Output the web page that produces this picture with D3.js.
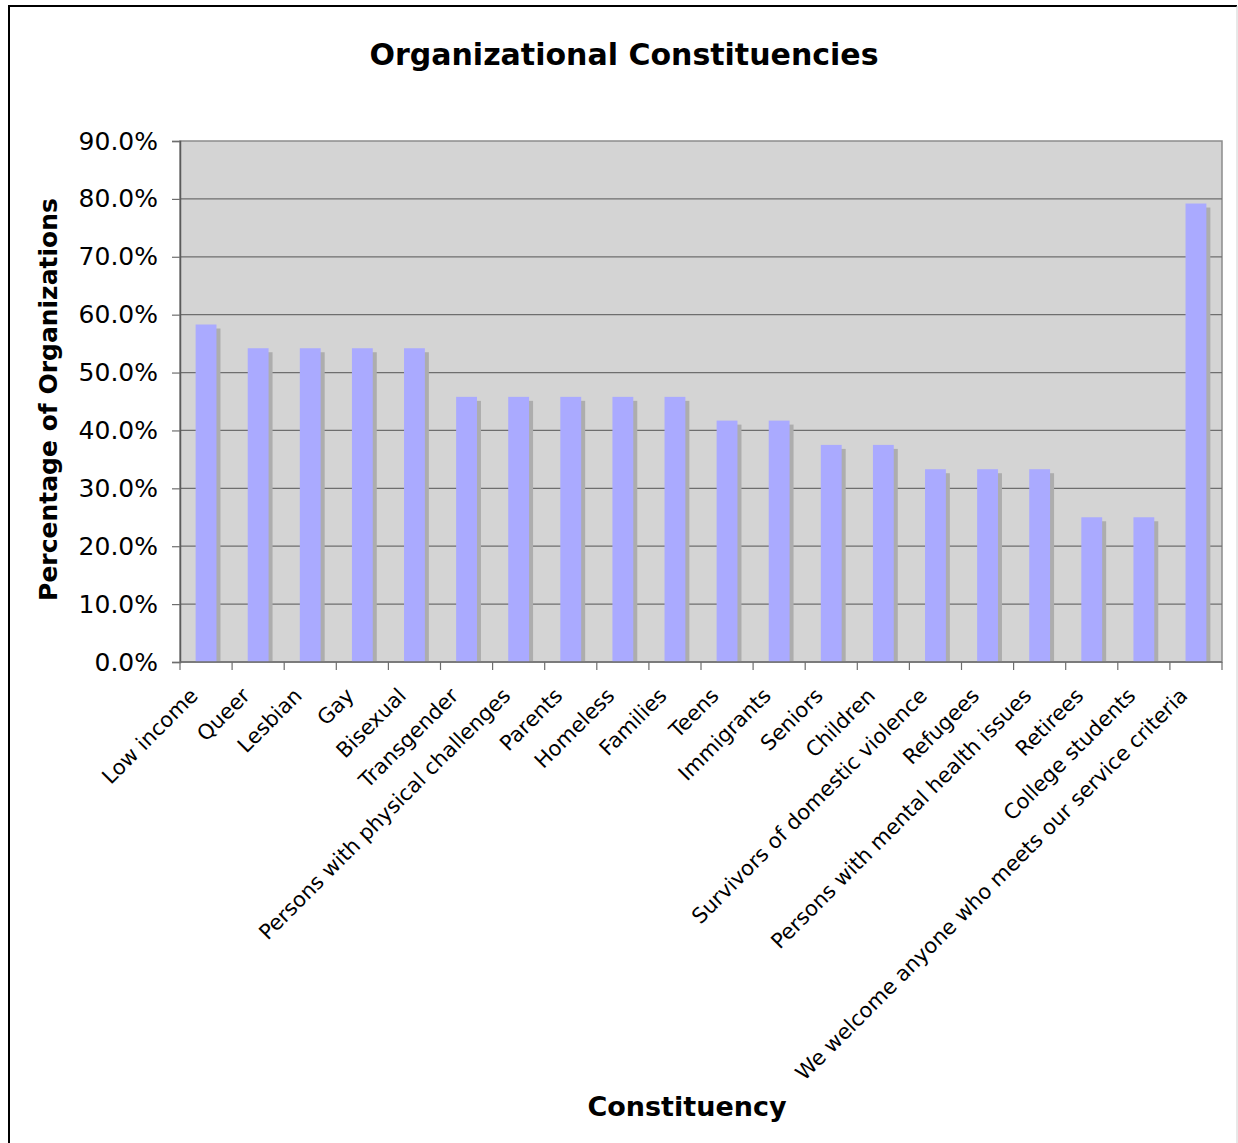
<!DOCTYPE html>
<html>
<head>
<meta charset="utf-8">
<script src="https://cdn.jsdelivr.net/npm/d3@7/dist/d3.min.js"></script>
<style>
  html, body { margin: 0; padding: 0; background: #fff; }
  svg { display: block; font-family: "DejaVu Sans", Verdana, sans-serif; }
</style>
</head>
<body>
<svg id="chart" width="1238" height="1143"></svg>
<script>
// Constituency categories, in the order shown along the x axis
const categories = [
  "Low income", "Queer", "Lesbian", "Gay", "Bisexual", "Transgender",
  "Persons with physical challenges", "Parents", "Homeless", "Families",
  "Teens", "Immigrants", "Seniors", "Children",
  "Survivors of domestic violence", "Refugees",
  "Persons with mental health issues", "Retirees", "College students",
  "We welcome anyone who meets our service criteria"
];

// Share of organizations serving each constituency (percent)
const percentages = [
  58.3, 54.2, 54.2, 54.2, 54.2, 45.8,
  45.8, 45.8, 45.8, 45.8,
  41.7, 41.7, 37.5, 37.5,
  33.3, 33.3,
  33.3, 25.0, 25.0,
  79.2
];

// Value-axis tick values (percent)
const yTicks = [0, 10, 20, 30, 40, 50, 60, 70, 80, 90];

const chartTitle = "Organizational Constituencies";
const xTitle = "Constituency";
const yTitle = "Percentage of Organizations";

const svg = d3.select("#chart");
const plot = { left: 180, right: 1222, top: 141, bottom: 662 };

// Outer frame
svg.append("line").attr("x1", 9).attr("y1", 6).attr("x2", 9).attr("y2", 1143)
  .attr("stroke", "#000").attr("stroke-width", 2);
svg.append("line").attr("x1", 8).attr("y1", 6).attr("x2", 1237).attr("y2", 6)
  .attr("stroke", "#000").attr("stroke-width", 2);
svg.append("line").attr("x1", 1237).attr("y1", 6).attr("x2", 1237).attr("y2", 1143)
  .attr("stroke", "#d0d0d0").attr("stroke-width", 1);

const x = d3.scaleBand()
  .domain(categories)
  .range([plot.left, plot.right])
  .paddingInner(0.6)
  .paddingOuter(0.3);

const xTick = d3.scaleBand()
  .domain(categories)
  .range([plot.left, plot.right]);

const y = d3.scaleLinear().domain([0, 90]).range([plot.bottom, plot.top]);

// Plot background
svg.append("rect")
  .attr("x", plot.left).attr("y", plot.top)
  .attr("width", plot.right - plot.left).attr("height", plot.bottom - plot.top)
  .attr("fill", "#d4d4d4")
  .attr("stroke", "#8c8c8c").attr("stroke-width", 1.5);

// Horizontal gridlines
svg.append("g")
  .selectAll("line")
  .data(yTicks.filter(t => t > 0 && t < 90))
  .join("line")
  .attr("x1", plot.left).attr("x2", plot.right)
  .attr("y1", d => y(d)).attr("y2", d => y(d))
  .attr("stroke", "#6e6e6e").attr("stroke-width", 1.2);

// Bar shadows
const shadowOffset = 4;
svg.append("g")
  .selectAll("rect")
  .data(categories)
  .join("rect")
  .attr("x", d => x(d) + shadowOffset)
  .attr("y", (d, i) => y(percentages[i]) + shadowOffset)
  .attr("width", x.bandwidth())
  .attr("height", (d, i) => plot.bottom - shadowOffset - y(percentages[i]))
  .attr("fill", "#adadad");

// Bars
svg.append("g")
  .selectAll("rect")
  .data(categories)
  .join("rect")
  .attr("x", d => x(d))
  .attr("y", (d, i) => y(percentages[i]))
  .attr("width", x.bandwidth())
  .attr("height", (d, i) => plot.bottom - y(percentages[i]))
  .attr("fill", "#aaaaff");

// Y axis
const yAxis = svg.append("g")
  .attr("transform", `translate(${plot.left},0)`)
  .call(d3.axisLeft(y).tickValues(yTicks).tickSize(8).tickPadding(14)
    .tickFormat(d => d.toFixed(1) + "%"));
yAxis.select(".domain").attr("stroke", "#5a5a5a").attr("stroke-width", 1.5);
yAxis.selectAll(".tick line").attr("stroke", "#6e6e6e").attr("stroke-width", 1.2);
yAxis.selectAll(".tick text")
  .attr("font-size", 25).attr("fill", "#000")
  .attr("font-family", "DejaVu Sans, Verdana, sans-serif");

// X axis ticks at category boundaries
const boundaries = categories.map(c => xTick(c)).concat([plot.right]);
svg.append("g")
  .selectAll("line")
  .data(boundaries)
  .join("line")
  .attr("x1", d => d).attr("x2", d => d)
  .attr("y1", plot.bottom).attr("y2", plot.bottom + 8)
  .attr("stroke", "#6e6e6e").attr("stroke-width", 1.2);
svg.append("line")
  .attr("x1", plot.left).attr("x2", plot.right)
  .attr("y1", plot.bottom).attr("y2", plot.bottom)
  .attr("stroke", "#6e6e6e").attr("stroke-width", 1.5);

// Rotated category labels
svg.append("g")
  .selectAll("text")
  .data(categories)
  .join("text")
  .attr("transform", d => `translate(${xTick(d) + xTick.bandwidth() / 2 - 7},${plot.bottom + 35}) rotate(-45)`)
  .attr("text-anchor", "end")
  .attr("font-size", 21)
  .attr("fill", "#000")
  .text(d => d);

// Titles
svg.append("text")
  .attr("x", 624).attr("y", 65)
  .attr("text-anchor", "middle")
  .attr("font-size", 30).attr("font-weight", "bold")
  .text(chartTitle);

svg.append("text")
  .attr("x", 687).attr("y", 1116)
  .attr("text-anchor", "middle")
  .attr("font-size", 27).attr("font-weight", "bold")
  .text(xTitle);

svg.append("text")
  .attr("transform", `translate(57,${(plot.top + plot.bottom) / 2 - 2}) rotate(-90)`)
  .attr("text-anchor", "middle")
  .attr("font-size", 25).attr("font-weight", "bold")
  .text(yTitle);
</script>
</body>
</html>
